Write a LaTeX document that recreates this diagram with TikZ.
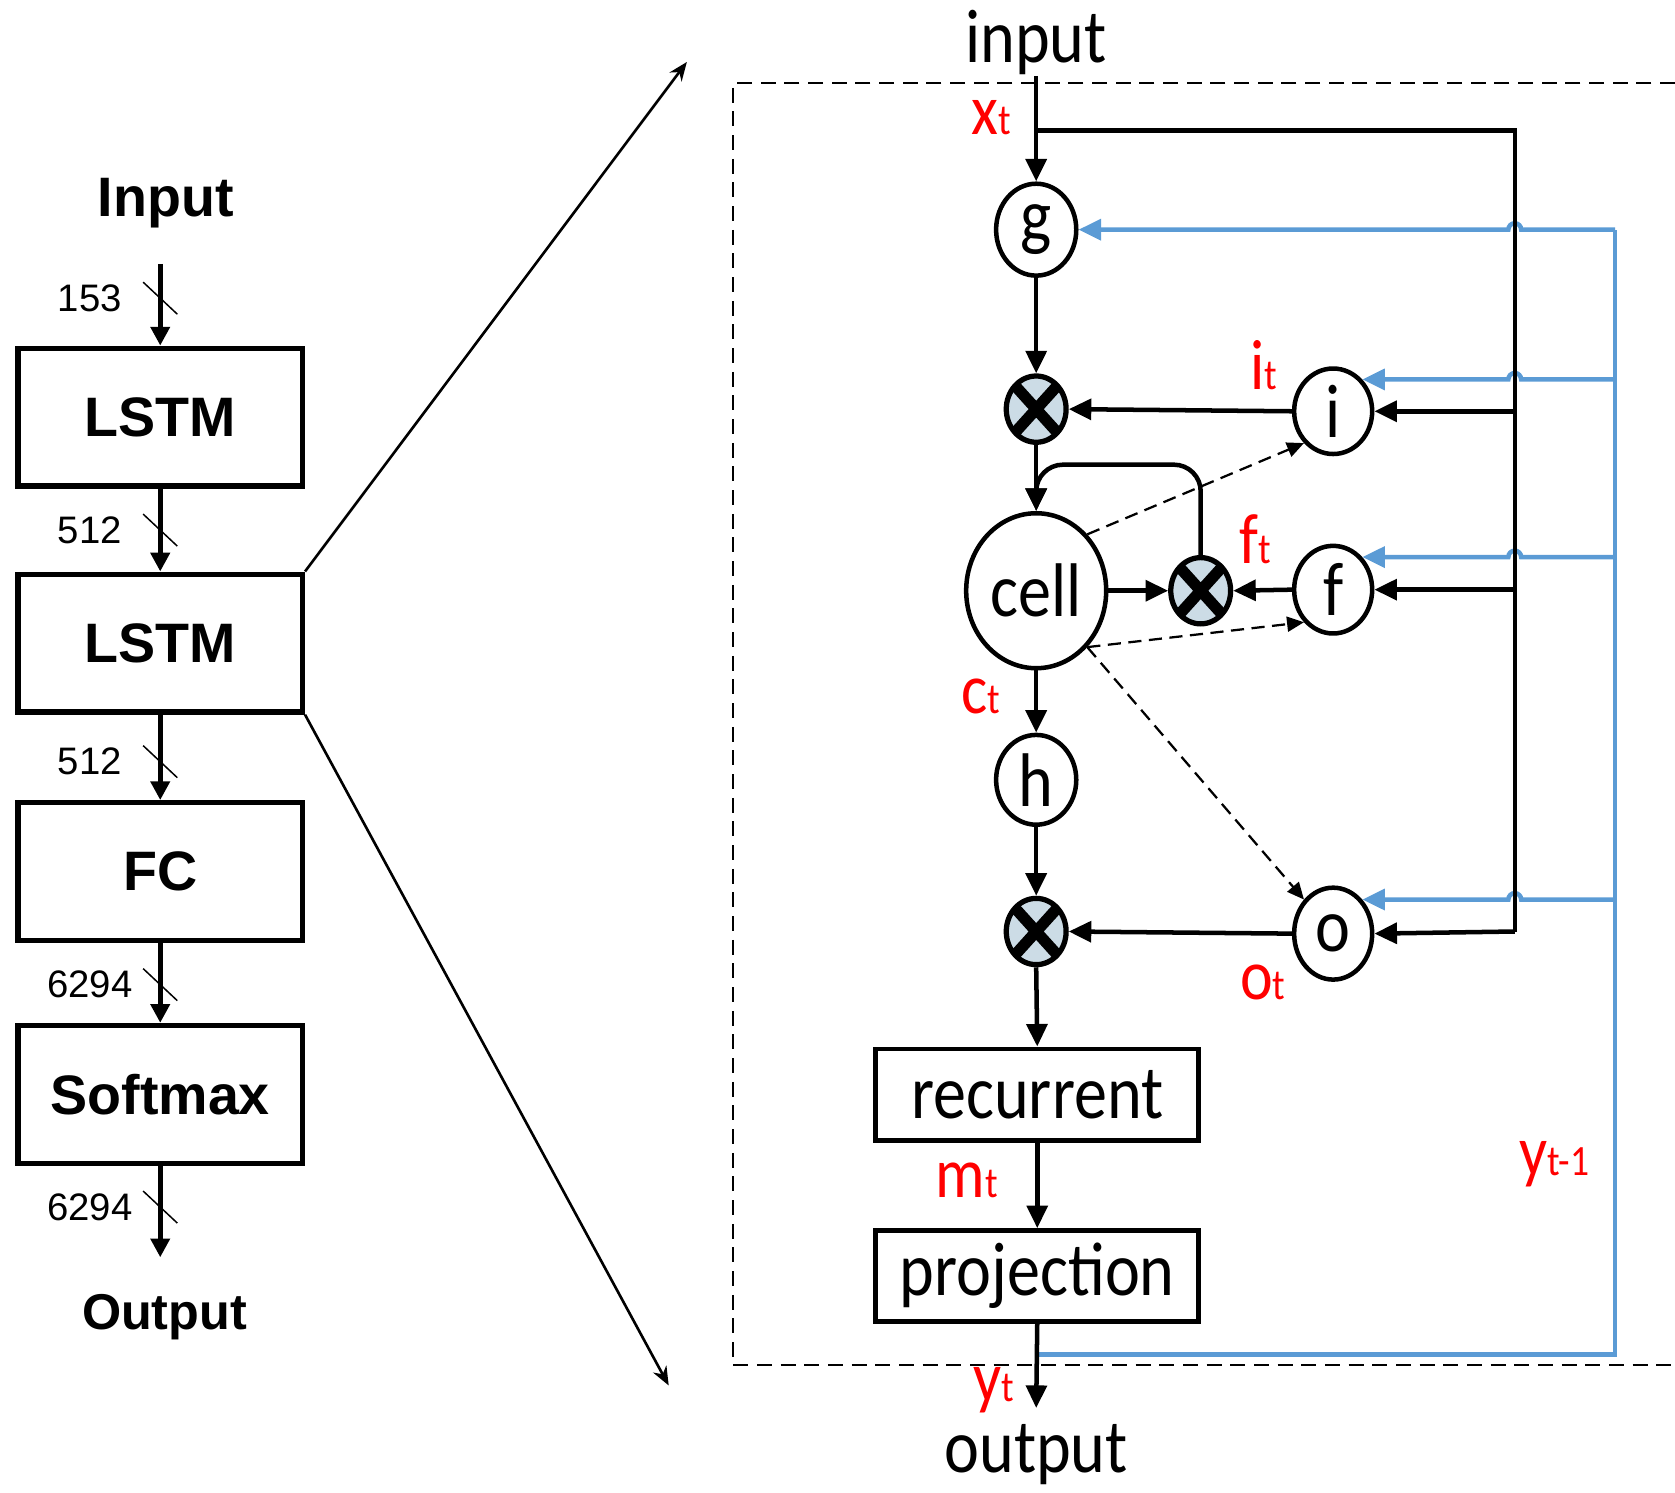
\documentclass[tikz,border=0pt]{standalone}
\usepackage{graphicx}
\usepackage{fontspec}
\setmainfont{Carlito}
\newfontfamily\arialfont{Liberation Sans}
\usetikzlibrary{arrows.meta,shapes.geometric,calc}

\definecolor{lstmred}{rgb}{1.0,0.0,0.0}
\definecolor{lstmblue}{rgb}{0.3569,0.6078,0.8353}
\definecolor{lstmmult}{rgb}{0.8,0.8627,0.902}

\newcommand{\tallt}[1]{\scalebox{1}[1.15]{#1}}
\newcommand{\redsym}[2]{\tallt{{\fontsize{16.5}{16.5}\selectfont #1}{\fontsize{10}{10}\selectfont #2}}}

\tikzset{
  layerbox/.style={draw,line width=1.4pt,minimum width=2.66cm,minimum height=1.29cm,inner sep=0,
    font=\arialfont\bfseries\fontsize{14.8}{14.8}\selectfont},
  flowarr/.style={line width=1.4pt,-{Triangle[length=5pt,width=5pt]}},
  slashmark/.style={line width=0.4pt},
  numlbl/.style={font=\arialfont\fontsize{10.2}{10.2}\selectfont},
  gate/.style={ellipse,draw,line width=1.2pt,inner sep=0,fill=white,font=\fontsize{17.6}{17.6}\selectfont},
  mult/.style={ellipse,draw,line width=1.4pt,fill=lstmmult,minimum width=.56cm,minimum height=.62cm,inner sep=0,
    path picture={\draw[line width=3pt]
      (path picture bounding box.north west) -- (path picture bounding box.south east)
      (path picture bounding box.north east) -- (path picture bounding box.south west);}},
  stagebox/.style={draw,line width=1.3pt,minimum width=3.02cm,minimum height=.86cm,inner sep=0,
    font=\fontsize{17.6}{17.6}\selectfont},
  wire/.style={line width=1.2pt},
  wirearr/.style={line width=1.2pt,-{Triangle[length=6pt,width=5.5pt]}},
  peep/.style={line width=.6pt,dash pattern=on 3.5pt off 2pt,-{Triangle[length=4.5pt,width=4pt]}},
  fbwire/.style={lstmblue,line width=1.2pt},
  fbarr/.style={lstmblue,line width=1.2pt,-{Triangle[length=6pt,width=5.5pt]}},
  redlbl/.style={text=lstmred,inner sep=0},
  zoomline/.style={line width=.7pt,-{Stealth[length=5pt,width=4pt]}},
  frame/.style={line width=.6pt,dash pattern=on 4pt off 2.3pt},
}

\begin{document}
\begin{tikzpicture}[x=0.01cm,y=-0.01cm]
\useasboundingbox (0,0) rectangle (1568,1397);

% layer stack
\node[font=\arialfont\bfseries\fontsize{14.8}{14.8}\selectfont] (inlbl) at (155,190) {Input};
\coordinate (inbeg) at (150,247);
\node[layerbox] (lstmA) at (150,390.5) {LSTM};
\node[layerbox] (lstmB) at (150,602) {LSTM};
\node[layerbox] (fc) at (150,816) {FC};
\node[layerbox] (softmax) at (150,1024.5) {Softmax};
\coordinate (outend) at (150,1177);
\node[font=\arialfont\bfseries\fontsize{13.4}{13.4}\selectfont] (outlbl) at (154,1233) {Output};

\draw[flowarr] (inbeg) -- coordinate[pos=.42] (sA) (lstmA.north);
\draw[flowarr] (lstmA.south) -- coordinate[pos=.5] (sB) (lstmB.north);
\draw[flowarr] (lstmB.south) -- coordinate[pos=.55] (sC) (fc.north);
\draw[flowarr] (fc.south) -- coordinate[pos=.52] (sD) (softmax.north);
\draw[flowarr] (softmax.south) -- coordinate[pos=.45] (sE) (outend);
\foreach \s/\n in {sA/153,sB/512,sC/512,sD/6294,sE/6294} {
  \draw[slashmark] (\s) ++(-16,-15) -- ++(32,30);
  \node[numlbl] at ($(\s)+(-66,0)$) {\n};
}

% zoom lines
\coordinate (zoomT) at (643,58);
\coordinate (zoomB) at (626,1297);
\draw[zoomline] (lstmB.north east) -- (zoomT);
\draw[zoomline] (lstmB.south east) -- (zoomB);

% cell frame
\draw[frame] (1568,78) -- (686,78) -- (686,1278) -- (1568,1278);

% lstm cell
\node[font=\fontsize{17.6}{17.6}\selectfont,inner sep=0] (intxt) at (970,40) {\tallt{input}};
\node[gate,minimum width=.75cm,minimum height=.86cm] (gnode) at (970,215) {\tallt{g}};
\node[mult] (multA) at (970,383) {};
\node[gate,minimum width=.73cm,minimum height=.80cm] (inode) at (1248,385) {\tallt{i}};
\node[gate,minimum width=1.31cm,minimum height=1.45cm] (cellnode) at (970,553) {\tallt{cell}};
\node[mult] (multB) at (1124,553) {};
\node[gate,minimum width=.73cm,minimum height=.82cm] (fnode) at (1248,552) {\tallt{f}};
\node[gate,minimum width=.75cm,minimum height=.84cm] (hnode) at (970,730) {\tallt{h}};
\node[mult] (multC) at (970,872) {};
\node[gate,minimum width=.73cm,minimum height=.86cm] (onode) at (1248,874) {\tallt{o}};
\node[stagebox] (recur) at (971,1025) {\tallt{recurrent}};
\node[stagebox,minimum height=.85cm] (proj) at (971,1194.5) {\tallt{projection}};
\coordinate (yend) at (970,1318);
\node[font=\fontsize{17.6}{17.6}\selectfont,inner sep=0] (outtxt) at (970,1362) {\tallt{output}};

\coordinate (xsplit) at (970,122);
\coordinate (busT) at (1418,122);
\coordinate (busB) at (1418,872);
\coordinate (loopTop) at (970,435);
\coordinate (ysplit) at (970,1268);
\coordinate (fbB) at (1512,1268);
\coordinate (fbT) at (1512,215);

% feedback y(t-1)
\draw[fbwire] (ysplit) -- (fbB) -- (fbT);
\foreach \t in {gnode.east,inode.north east,fnode.north east,onode.north east}
  \draw[fbarr] (fbT |- \t) -- ($(busT |- \t)+(6,0)$) arc[start angle=0,end angle=180,radius=.06cm] -- (\t);

% input bus
\draw[wirearr] (intxt.south) -- (gnode.north);
\draw[wire] (xsplit) -- (busT) -- (busB);
\draw[wirearr] (busT |- inode.east) -- (inode.east);
\draw[wirearr] (busT |- fnode.east) -- (fnode.east);
\draw[wirearr] (busB) -- (onode.east);

% main path
\draw[wirearr] (gnode.south) -- (multA.north);
\draw[wirearr] (inode.west) -- (multA.east);
\draw[wirearr] (multA.south) -- (cellnode.north);
\draw[wirearr,rounded corners=.25cm] (multB.north) |- (loopTop) -- (cellnode.north);
\draw[wirearr] (cellnode.east) -- (multB.west);
\draw[wirearr] (fnode.west) -- (multB.east);
\draw[wirearr] (cellnode.south) -- (hnode.north);
\draw[wirearr] (hnode.south) -- (multC.north);
\draw[wirearr] (onode.west) -- (multC.east);
\draw[wirearr] (multC.south) -- (recur.north);
\draw[wirearr] (recur.south) -- (proj.north);
\draw[wirearr] (proj.south) -- (yend);

% peepholes
\draw[peep] (cellnode.north east) -- (inode.south west);
\draw[peep] (cellnode.south east) -- (fnode.south west);
\draw[peep] (cellnode.south east) -- (onode.north west);

% signal names
\node[redlbl] (xlbl) at (928,110) {\redsym{x}{t}};
\node[redlbl] (ilbl) at (1183,342) {\redsym{i}{t}};
\node[redlbl] (flbl) at (1175,505) {\redsym{f}{t}};
\node[redlbl] (clbl) at (918,652) {\redsym{c}{t}};
\node[redlbl] (olbl) at (1182,920) {\redsym{o}{t}};
\node[redlbl] (mlbl) at (905,1105) {\redsym{m}{t}};
\node[redlbl] (ylbl) at (930,1301) {\redsym{y}{t}};
\node[redlbl] (yprev) at (1455,1090) {\redsym{y}{t-1}};
\end{tikzpicture}
\end{document}
